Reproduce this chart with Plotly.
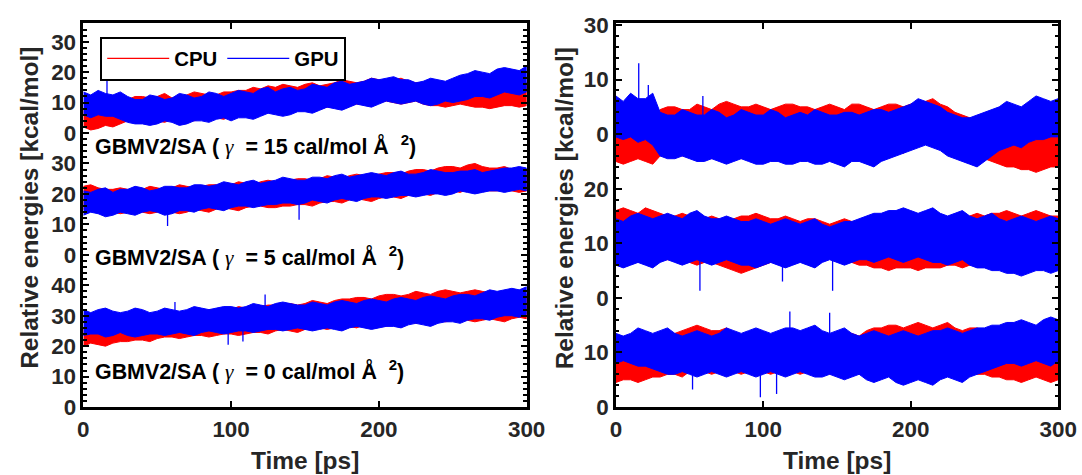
import numpy as np
import plotly.graph_objects as go

# ---------------- data ----------------
# sampling times of the envelope values [ps]
T = [0, 5, 10, 15, 20, 25, 30, 35, 40, 45,
     50, 55, 60, 65, 70, 75, 80, 85, 90, 95,
     100, 105, 110, 115, 120, 125, 130, 135, 140, 145,
     150, 155, 160, 165, 170, 175, 180, 185, 190, 195,
     200, 205, 210, 215, 220, 225, 230, 235, 240, 245,
     250, 255, 260, 265, 270, 275, 280, 285, 290, 295,
     300]

# Left panel: GBMV2/SA, relative energies [kcal/mol]; upper / lower envelope of the noisy traces
g15_gpu_hi = [13.5, 12.5, 14, 13, 12.5, 13.5, 12, 11, 11, 12.5,
              12, 11, 11.5, 13, 12.5, 11.5, 12, 13.5, 13, 12,
              13, 14, 13.5, 13, 14.5, 15, 13.5, 14.5, 15, 14,
              14.5, 16, 15.5, 15, 16.5, 17, 16, 16.5, 17, 18,
              17.5, 18, 18.5, 17.5, 17.5, 16.5, 17, 18, 17.5, 17,
              18, 19, 19.5, 20.5, 20, 19.5, 21, 21.5, 21, 20.5,
              22]
g15_gpu_lo = [6, 5, 6, 5.5, 5.5, 4.5, 3.5, 3, 3, 2.5,
              3, 4, 3.5, 2.5, 3, 4, 4, 3.5, 4.5, 5,
              4, 5, 5, 4.5, 5.5, 6.5, 6, 5.5, 6, 7,
              7, 6.5, 7.5, 8.5, 8, 7.5, 8.5, 9.5, 9, 8.5,
              9.5, 10.5, 10, 9.5, 10, 10.5, 9.5, 9, 9.5, 10.5,
              10, 10.5, 11, 12, 12, 11.5, 12.5, 13.5, 13, 12.5,
              13.5]
g15_cpu_hi = [8, 7.5, 8.5, 7.5, 8, 10, 11, 12, 12, 11.5,
              12, 13, 11.5, 12, 12.5, 13.5, 13, 12.5, 12.5, 13.5,
              13.5, 14, 14, 15, 14.5, 15.5, 15, 16, 15.5, 15,
              16, 16.5, 15.5, 16, 16.5, 17.5, 17, 16.5, 17, 18,
              17.5, 17, 17.5, 18, 17, 16.5, 16.5, 17, 16, 15.5,
              16, 16.5, 16.5, 15.5, 16, 17, 15.5, 16, 16.5, 17,
              16.5]
g15_cpu_lo = [2, 1, 1.5, 2.5, 2, 3, 4, 3.5, 4, 4.5,
              4, 3.5, 4.5, 5, 4.5, 4, 5, 5.5, 5, 4.5,
              5.5, 6, 6, 5.5, 6.5, 7, 7, 6.5, 7.5, 8,
              8, 7.5, 8, 8.5, 8.5, 8, 9, 9.5, 9.5, 9,
              10, 10.5, 10, 9.5, 10, 10.5, 9.5, 9, 9, 8.5,
              9, 9.5, 9, 8.5, 8.5, 8, 8.5, 9, 9, 8.5,
              9]

g5_gpu_hi = [21, 20.5, 21.5, 22, 20.5, 21.5, 21.5, 22.5, 22, 21,
             21.5, 22.5, 22.5, 22, 22, 23, 23, 22.5, 23, 24,
             23.5, 23, 24, 24.5, 23.5, 24, 24.5, 25.5, 25, 24.5,
             24.5, 25.5, 25.5, 25, 26, 26.5, 25.5, 26, 26.5, 27,
             26.5, 26, 27, 27.5, 26.5, 26.5, 27, 28, 27.5, 27,
             27, 27.5, 27.5, 28, 27, 27.5, 28, 28.5, 28.5, 29,
             28.5]
g5_gpu_lo = [13, 14, 13.5, 12.5, 13, 14, 13.5, 13, 14, 14.5,
             14, 13, 13.5, 14.5, 14.5, 14, 15, 15.5, 15, 14.5,
             15.5, 16, 16, 15.5, 16, 16.5, 16.5, 17, 17, 16.5,
             17, 18, 17.5, 17, 18, 18.5, 18, 17.5, 18.5, 19,
             19, 18.5, 19, 19.5, 19.5, 19, 19.5, 20, 20, 19.5,
             20, 21, 20.5, 20, 20.5, 21, 21, 20.5, 21, 21.5,
             21]
g5_cpu_hi = [22.5, 23, 22, 21.5, 21.5, 22, 21.5, 21, 21.5, 22.5,
             22, 21.5, 22, 23, 22.5, 22, 22.5, 23, 23, 22.5,
             23, 24, 23.5, 23, 24, 24.5, 24, 23.5, 24.5, 25,
             25, 24.5, 25, 26, 25.5, 25, 26, 26.5, 26, 25.5,
             26.5, 27, 27, 26.5, 27.5, 28, 28, 27.5, 28.5, 29,
             29, 28.5, 29.5, 30, 29, 28.5, 28.5, 29, 28, 27.5,
             28]
g5_cpu_lo = [15, 14.5, 14.5, 15, 14, 13.5, 14, 14.5, 14, 13.5,
             14, 14.5, 14, 13.5, 14, 15, 14.5, 14, 15, 15.5,
             15, 14.5, 15.5, 16, 16, 15.5, 15.5, 16, 16, 16.5,
             16.5, 16, 17, 17.5, 17.5, 17, 18, 18.5, 18, 17.5,
             18.5, 19, 19, 18.5, 19.5, 20, 20, 19.5, 20.5, 21,
             21, 20.5, 21.5, 22, 21.5, 21, 21, 21.5, 21, 20.5,
             21]

g0_gpu_hi = [32, 31, 32, 32.5, 31.5, 31, 31.5, 32.5, 32, 31,
             31.5, 32.5, 32, 31.5, 32, 33, 32.5, 32, 32.5, 33,
             33, 32.5, 33, 34, 33.5, 33, 34, 34.5, 34, 33.5,
             33.5, 34.5, 34, 33.5, 34.5, 35, 34.5, 34, 35, 35.5,
             35, 34.5, 35.5, 36, 35.5, 35, 36, 36.5, 36, 35.5,
             36.5, 37, 37, 36.5, 37.5, 38.5, 38, 38.5, 39, 38.5,
             39.5]
g0_gpu_lo = [23.5, 24, 24, 23, 23.5, 24.5, 23.5, 23, 23.5, 24,
             24, 23.5, 24, 24.5, 24, 23.5, 24.5, 25, 24.5, 24,
             24.5, 25, 25, 24.5, 25, 25.5, 25.5, 25, 25.5, 26,
             25.5, 25, 25.5, 26, 25.5, 25, 26, 26.5, 26, 25.5,
             26, 26.5, 26.5, 26, 27, 27.5, 27, 26.5, 27.5, 28,
             28, 27.5, 28.5, 29, 29, 28.5, 29.5, 30, 30, 29.5,
             30.5]
g0_cpu_hi = [26, 26.5, 26, 25.5, 27, 27.5, 28, 28.5, 29, 29.5,
             30, 31, 31, 30.5, 31, 31.5, 31.5, 32, 32, 31.5,
             32, 33, 32.5, 32, 33, 33.5, 33.5, 34, 34, 33.5,
             34, 35, 34.5, 34, 35, 35.5, 35.5, 36, 36, 35.5,
             36.5, 37, 37, 36.5, 37, 38, 37.5, 37, 38, 38.5,
             38, 37.5, 38, 38.5, 38, 37.5, 37.5, 37, 37, 37.5,
             37]
g0_cpu_lo = [20, 21, 20.5, 20, 21, 21.5, 21.5, 22, 22, 21.5,
             22.5, 23, 23, 22.5, 23, 23.5, 23.5, 23, 23.5, 24,
             24, 23.5, 24, 24.5, 24.5, 24, 25, 25.5, 25, 24.5,
             25.5, 26, 26, 25.5, 26, 26.5, 26.5, 26, 27, 27.5,
             27, 26.5, 27.5, 28, 28, 27.5, 28, 28.5, 28.5, 28,
             28.5, 29, 28.5, 28, 28.5, 29, 28.5, 28, 29, 29.5,
             29]

# Right panel: three further systems, relative energies [kcal/mol]
r1_gpu_hi = [7, 6, 7.5, 6.5, 6.5, 7.5, 4, 3.5, 3.5, 4.5,
             4, 3.5, 3.5, 4.5, 4, 3, 3.5, 4.5, 4, 3.5,
             3.5, 4.5, 4, 3, 3.5, 4, 3.5, 4.5, 4, 3.5,
             3.5, 4, 4, 3.5, 4, 4.5, 4.5, 4, 4.5, 5,
             5.5, 6.5, 6, 5.5, 5, 4, 3.5, 3, 3, 3.5,
             4, 4.5, 5, 6, 5.5, 5, 6, 7, 6.5, 6,
             6.5]
r1_gpu_lo = [-0.5, -1, -0.5, -1.5, -1, -2, -4, -4.5, -4.5, -4,
             -4.5, -5, -5, -4.5, -5, -5.5, -5, -4.5, -5, -5.5,
             -5.5, -5, -5, -5.5, -5.5, -5, -5, -5.5, -5.5, -5,
             -5.5, -6, -5, -5, -5.5, -6, -5, -4.5, -4, -3.5,
             -3, -2.5, -2, -2.5, -3, -4, -4.5, -5, -5.5, -6,
             -5, -4, -3, -2.5, -2, -2.5, -1.5, -1, -1, -0.5,
             -0.5]
r1_cpu_hi = [0.5, 1, 1, 0.5, 1, 1.5, 4.5, 5, 5, 4.5,
             4.5, 5.5, 5, 4.5, 5.5, 6, 5.5, 5, 5, 5.5,
             5, 4.5, 5, 5.5, 5.5, 5, 5, 4.5, 5, 5.5,
             5, 4.5, 5.5, 5.5, 5, 4.5, 5, 5.5, 5.5, 5,
             5.5, 6, 6, 6.5, 5.5, 5, 4, 3.5, 3, 2.5,
             3, 3.5, 1.5, 1, 0.5, 0, 0.5, 1, 0, -0.5,
             0.5]
r1_cpu_lo = [-5, -5.5, -5, -4.5, -5, -5.5, -4, -3.5, -3.5, -4,
             -3.5, -3, -4, -4.5, -3.5, -3, -4, -4.5, -4, -3.5,
             -3.5, -4, -4, -3.5, -4, -4.5, -4, -3.5, -4, -4.5,
             -4, -3.5, -4, -4.5, -4, -3.5, -3.5, -3, -3, -3.5,
             -2.5, -2, -1.5, -2, -2.5, -3.5, -4, -4.5, -4.5, -5,
             -4.5, -5, -5.5, -6, -6, -6.5, -6.5, -7, -6.5, -6,
             -6]

r2_gpu_hi = [14.5, 14, 15, 15.5, 15, 14.5, 15, 15.5, 15, 14.5,
             15.5, 16, 15, 14.5, 14.5, 15, 14.5, 14, 14, 14.5,
             14, 13.5, 14, 14.5, 14, 13.5, 14, 14.5, 13.5, 13,
             13.5, 14, 14, 14.5, 15, 15.5, 15.5, 16, 16, 16.5,
             16, 15.5, 16, 16.5, 15.5, 15, 15.5, 16, 15, 14.5,
             15, 15.5, 14.5, 14, 14.5, 15, 14.5, 14, 14.5, 15,
             14.5]
r2_gpu_lo = [6, 5.5, 6, 6.5, 6, 5.5, 6.5, 7, 6.5, 6,
             6.5, 7, 6.5, 6, 6.5, 7, 6.5, 6, 6, 5.5,
             6, 6.5, 6, 5.5, 6, 6.5, 6, 5.5, 6.5, 7,
             6.5, 6, 6.5, 7, 7, 6.5, 7, 7.5, 7, 6.5,
             7, 7.5, 7, 6.5, 6.5, 6, 6.5, 7, 6, 5.5,
             5.5, 5, 5, 4.5, 4.5, 4, 4.5, 5, 5, 4.5,
             5]
r2_cpu_hi = [16, 16.5, 16, 15.5, 16.5, 16, 15.5, 15, 15, 15.5,
             15, 14.5, 14.5, 15, 14.5, 14, 14.5, 15, 15, 15.5,
             15, 14.5, 14.5, 15, 14.5, 14, 14.5, 14.5, 14, 13.5,
             14, 14.5, 14, 13.5, 14.5, 15, 14.5, 14, 14.5, 15,
             14.5, 14, 14.5, 15, 14.5, 14, 14.5, 15, 15, 15.5,
             15, 15.5, 15.5, 16, 15.5, 15, 15.5, 16, 15.5, 15,
             15]
r2_cpu_lo = [7, 7.5, 7, 6.5, 7, 7.5, 7, 7, 7, 6.5,
             6.5, 6, 6.5, 6.5, 6, 5.5, 5, 4.5, 5, 5.5,
             6, 6.5, 6.5, 6, 6.5, 7, 6.5, 6.5, 7, 7.5,
             7, 6.5, 6.5, 6, 6, 5.5, 5.5, 5, 5.5, 5.5,
             5.5, 5, 5.5, 5.5, 5.5, 6, 6, 5.5, 6, 6.5,
             6.5, 7, 7, 7.5, 7, 7, 7, 7.5, 7, 7,
             7]

r3_gpu_hi = [13.5, 13, 13.5, 14.5, 14, 13.5, 14, 14.5, 13.5, 13,
             13.5, 14, 13.5, 13, 13.5, 14.5, 14, 13.5, 14, 14.5,
             14, 13.5, 14, 14.5, 14.5, 14, 14.5, 15, 14, 13.5,
             14, 14.5, 13.5, 13, 13.5, 14, 13.5, 13, 13.5, 14,
             13.5, 13, 13.5, 14, 14, 14.5, 14, 13.5, 14, 14.5,
             14.5, 15, 15, 15.5, 15.5, 16, 15.5, 15, 16, 16.5,
             16]
r3_gpu_lo = [8, 8.5, 8, 7.5, 7.5, 7, 6.5, 6, 6, 6.5,
             6, 5.5, 6, 6.5, 6, 5.5, 6, 6.5, 6, 5.5,
             6, 6.5, 6, 5.5, 6, 6.5, 6, 5.5, 5.5, 6,
             5.5, 5, 5.5, 6, 5, 4.5, 5, 5.5, 4.5, 4,
             4.5, 5, 4.5, 4, 5, 5.5, 5, 4.5, 5.5, 6,
             6.5, 7, 7.5, 8, 8, 7.5, 8, 8.5, 8, 7.5,
             8.5]
r3_cpu_hi = [11, 11.5, 11, 10.5, 11.5, 12, 12, 13, 13.5, 14,
             14.5, 15, 14.5, 14, 14, 14.5, 13.5, 13, 13, 13.5,
             13, 12.5, 13, 13.5, 13, 12.5, 13, 13.5, 13, 12.5,
             13, 13.5, 13.5, 13, 14, 14.5, 14.5, 15, 15, 14.5,
             15, 15.5, 15, 14.5, 15, 15.5, 14.5, 14, 14.5, 14.5,
             14, 13.5, 13, 12.5, 12, 12.5, 12, 11.5, 12, 12.5,
             12]
r3_cpu_lo = [4.5, 5, 5, 4.5, 5, 5.5, 5.5, 6, 6, 5.5,
             6.5, 7, 6.5, 6, 6.5, 7, 6.5, 6, 6.5, 7,
             6.5, 6, 6.5, 7, 6.5, 6, 6.5, 7, 6.5, 6,
             6.5, 7, 6.5, 6, 6.5, 7, 6.5, 6, 6.5, 7,
             6.5, 6, 6.5, 7, 6.5, 6, 6.5, 7, 6.5, 6,
             6, 5.5, 5.5, 5, 5, 4.5, 5, 5.5, 5, 4.5,
             5]

# isolated GPU spikes: (time [ps], value [kcal/mol])
g15_spikes = [(16, 18.5)]
g5_spikes = [(57, 9.5), (146, 11.5)]
g0_spikes = [(62, 34.5), (98, 20.5), (108, 21.5), (123, 37)]
r1_spikes = [(15.5, 13), (22, 9), (59, 7)]
r2_spikes = [(57, 1.3), (113, 3), (147, 1.3)]
r3_spikes = [(52, 3.2), (98, 1.8), (109, 2.4), (118, 17.5), (145, 17.3)]

gammas = ["15", "5", "0"]
left_ticktext = ["0", "10", "20", "30", "40", "0", "10", "20", "30", "0", "10", "20", "30"]
right_ticktext = ["0", "10", "0", "10", "20", "0", "10", "30"]

# ---------------- styling ----------------
RED = "#ff0000"
BLUE = "#0000ff"
FONT = "Liberation Sans"
TXT = "#262626"
W, H = 1082, 475          # reference frame used to express positions as fractions
FIG_W, FIG_H = 1098, 491  # figure canvas size
FS = 1.02                 # font compensation for the canvas size
NB = "\u00a0"


def px(x):
    return x / W


def py(y):
    return 1 - y / H


# stacking offsets of each sub-trace on the shared axis
LEFT_OFF = [90, 50, 0]
RIGHT_OFF = [50, 20, 0]

for arr in [g15_gpu_hi, g15_gpu_lo, g15_cpu_hi, g15_cpu_lo, g5_gpu_hi, g5_gpu_lo, g5_cpu_hi, g5_cpu_lo,
            g0_gpu_hi, g0_gpu_lo, g0_cpu_hi, g0_cpu_lo, r1_gpu_hi, r1_gpu_lo, r1_cpu_hi, r1_cpu_lo,
            r2_gpu_hi, r2_gpu_lo, r2_cpu_hi, r2_cpu_lo, r3_gpu_hi, r3_gpu_lo, r3_cpu_hi, r3_cpu_lo]:
    assert len(arr) == len(T), len(arr)

fig = go.Figure()


def band(hi, lo, off, color, xa, ya):
    x = T + T[::-1]
    y = [v + off for v in hi] + [v + off for v in lo][::-1]
    fig.add_trace(go.Scatter(x=x, y=y, xaxis=xa, yaxis=ya, mode="lines", fill="toself",
                             fillcolor=color, line=dict(color=color, width=1),
                             showlegend=False, hoverinfo="skip"))


def spikes(sp, hi, lo, off, color, xa, ya):
    mid = (np.array(hi) + np.array(lo)) / 2.0
    xs, ys = [], []
    for t, v in sp:
        base = float(np.interp(t, T, mid))
        xs += [t, t, None]
        ys += [base + off, v + off, None]
    fig.add_trace(go.Scatter(x=xs, y=ys, xaxis=xa, yaxis=ya, mode="lines",
                             line=dict(color=color, width=1.3), showlegend=False, hoverinfo="skip"))


left_sets = [
    (g15_gpu_hi, g15_gpu_lo, g15_cpu_hi, g15_cpu_lo, g15_spikes),
    (g5_gpu_hi, g5_gpu_lo, g5_cpu_hi, g5_cpu_lo, g5_spikes),
    (g0_gpu_hi, g0_gpu_lo, g0_cpu_hi, g0_cpu_lo, g0_spikes),
]
right_sets = [
    (r1_gpu_hi, r1_gpu_lo, r1_cpu_hi, r1_cpu_lo, r1_spikes),
    (r2_gpu_hi, r2_gpu_lo, r2_cpu_hi, r2_cpu_lo, r2_spikes),
    (r3_gpu_hi, r3_gpu_lo, r3_cpu_hi, r3_cpu_lo, r3_spikes),
]

for (gh, gl, ch, cl, sp), off in zip(left_sets, LEFT_OFF):
    band(ch, cl, off, RED, "x", "y")
    band(gh, gl, off, BLUE, "x", "y")
    spikes(sp, gh, gl, off, BLUE, "x", "y")
for (gh, gl, ch, cl, sp), off in zip(right_sets, RIGHT_OFF):
    band(ch, cl, off, RED, "x2", "y2")
    band(gh, gl, off, BLUE, "x2", "y2")
    spikes(sp, gh, gl, off, BLUE, "x2", "y2")

# legend entries
fig.add_trace(go.Scatter(x=[None], y=[None], mode="lines", name="CPU", line=dict(color=RED, width=1.2)))
fig.add_trace(go.Scatter(x=[None], y=[None], mode="lines", name="GPU", line=dict(color=BLUE, width=1.2)))

xd_left = [px(78), px(525)]
xd_right = [px(615), px(1061)]
yd = [py(403), py(13)]

tick_font = dict(family=FONT, size=22 * FS, color=TXT, weight="bold")
common_x = dict(range=[0, 300], tickvals=[0, 100, 200, 300], ticks="inside", ticklen=6, tickwidth=2,
                tickcolor="black", showline=True, linecolor="black", linewidth=2.5, mirror="ticks",
                showgrid=False, zeroline=False, ticklabeloverflow="allow", tickfont=tick_font)
minor = dict(tickmode="linear", tick0=0, dtick=2, ticks="inside", ticklen=3.5, tickwidth=1.5, tickcolor="black")
common_y = dict(tickmode="array", ticks="inside", ticklen=6, tickwidth=2, tickcolor="black",
                showline=True, linecolor="black", linewidth=2.5, mirror="ticks",
                showgrid=False, zeroline=False, minor=minor, ticklabeloverflow="allow", tickfont=tick_font)

fig.update_layout(
    width=FIG_W, height=FIG_H, margin=dict(l=0, r=0, t=0, b=0),
    paper_bgcolor="white", plot_bgcolor="white",
    xaxis=dict(domain=xd_left, anchor="y", **common_x),
    yaxis=dict(domain=yd, anchor="x", range=[0, 126.2], tickvals=list(range(0, 130, 10)),
               ticktext=left_ticktext, **common_y),
    xaxis2=dict(domain=xd_right, anchor="y2", **common_x),
    yaxis2=dict(domain=yd, anchor="x2", range=[0, 70.4], tickvals=list(range(0, 80, 10)),
                ticktext=right_ticktext, **common_y),
    showlegend=True,
    legend=dict(orientation="h", x=px(95), y=py(27), xanchor="left", yanchor="top",
                bordercolor="black", borderwidth=2, bgcolor="white", itemwidth=62,
                font=dict(family=FONT, size=20 * FS, color="black", weight="bold")),
)

annotations = []
for g, ypx in zip(gammas, [137, 250, 365]):
    txt = ('GBMV2/SA (' + NB + '<span style="font-family:Liberation Serif;font-weight:normal"><i>γ</i></span>'
           + NB + ' = ' + g + ' cal/mol Å' + NB + NB + '<sup>2</sup>)')
    annotations.append(dict(text=txt, x=px(88), y=py(ypx), xref="paper", yref="paper",
                            xanchor="left", yanchor="middle", showarrow=False,
                            font=dict(family=FONT, size=21 * FS, color="black", weight="bold")))
for xc in [23, 563]:
    annotations.append(dict(text="Relative energies [kcal/mol]", x=px(xc), y=py(201),
                            xref="paper", yref="paper", xanchor="center", yanchor="middle",
                            textangle=-90, showarrow=False,
                            font=dict(family=FONT, size=24 * FS, color=TXT, weight="bold")))
for xc in [301.5, 838]:
    annotations.append(dict(text="Time [ps]", x=px(xc), y=py(457), xref="paper", yref="paper",
                            xanchor="center", yanchor="middle", showarrow=False,
                            font=dict(family=FONT, size=24 * FS, color=TXT, weight="bold")))
fig.update_layout(annotations=annotations)

fig.write_html("out.html", config={"displayModeBar": False},
               post_script="document.body.style.margin='0';document.body.style.overflow='hidden';")
